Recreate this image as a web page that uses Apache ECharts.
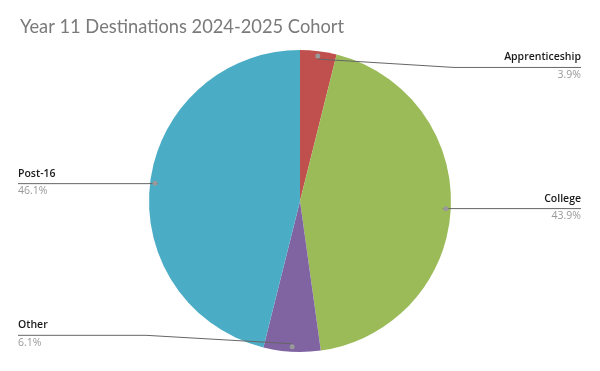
<!DOCTYPE html>
<html>
<head>
<meta charset="utf-8">
<script src="https://cdn.jsdelivr.net/npm/echarts@6/dist/echarts.min.js"></script>
<style>html,body{margin:0;padding:0;background:#fff}#c{width:600px;height:371px}</style>
</head>
<body>
<div id="c"></div>
<script>
var titleText = 'Year 11 Destinations 2024-2025 Cohort';
var categories = ['Apprenticeship', 'College', 'Other', 'Post-16'];
var shares = [3.9, 43.9, 6.1, 46.1];
var colors = ['#C0504D', '#9BBB59', '#8064A2', '#4BACC6'];

var chart = echarts.init(document.getElementById('c'), null, {renderer: 'canvas'});
var W = 600, CX = 300, CY = 201, R = 151, EDGE = 19;

function makeData(withColor) {
  return categories.map(function (n, i) {
    return {name: n, value: shares[i], itemStyle: {color: withColor ? colors[i] : 'rgba(0,0,0,0)'}};
  });
}

chart.setOption({
  animation: false,
  backgroundColor: '#fff',
  title: {
    text: titleText, left: 15, top: 13,
    textStyle: {fontFamily: 'Lato', fontSize: 18.3, fontWeight: 'normal', color: '#7a7a7a'}
  },
  series: [{
    type: 'pie',
    center: [CX, CY],
    radius: [0, R],
    startAngle: 90,
    clockwise: true,
    data: makeData(true),
    label: {show: false},
    labelLine: {show: false}
  }, {
    type: 'pie',
    center: [CX, CY],
    radius: [0, R],
    startAngle: 90,
    clockwise: true,
    silent: true,
    z: 3,
    data: makeData(false),
    label: {
      show: true,
      formatter: '{n|{b}}\n{p|{c}%}',
      rich: {
        n: {fontFamily: 'Open Sans', fontSize: 10.5, fontWeight: 600, color: '#1a1a1a', lineHeight: 19},
        p: {fontFamily: 'Open Sans', fontSize: 10.5, color: '#999', lineHeight: 16}
      }
    },
    labelLine: {show: true, length: 10, length2: 10, smooth: false, lineStyle: {color: '#666', width: 1}},
    labelLayout: function (p) {
      var p0 = p.labelLinePoints[0];
      var vx = p0[0] - CX, vy = p0[1] - CY;
      var len = Math.sqrt(vx * vx + vy * vy);
      var ux = vx / len, uy = vy / len;
      var dx = CX + ux * R * 0.947, dy = CY + uy * R * 0.947;
      var ly = dy - 8.5 * uy * Math.abs(uy);
      var right = ux > 0;
      var ex = right ? CX + R + 3 : CX - R - 3;
      var endX = right ? W - EDGE : EDGE - 1;
      return {
        x: endX, y: ly - 2,
        align: right ? 'right' : 'left',
        verticalAlign: 'middle',
        labelLinePoints: [[dx, dy], [ex, ly], [endX, ly]]
      };
    }
  }, {
    type: 'pie',
    center: [CX, CY],
    radius: [R * 0.894, R],
    startAngle: 90,
    clockwise: true,
    silent: true,
    z: 4,
    data: makeData(false),
    label: {
      show: true, position: 'inside', formatter: '{d|}',
      rich: {d: {width: 5, height: 5, borderRadius: 2.5, backgroundColor: '#999'}}
    },
    labelLine: {show: false}
  }]
});
</script>
</body>
</html>
